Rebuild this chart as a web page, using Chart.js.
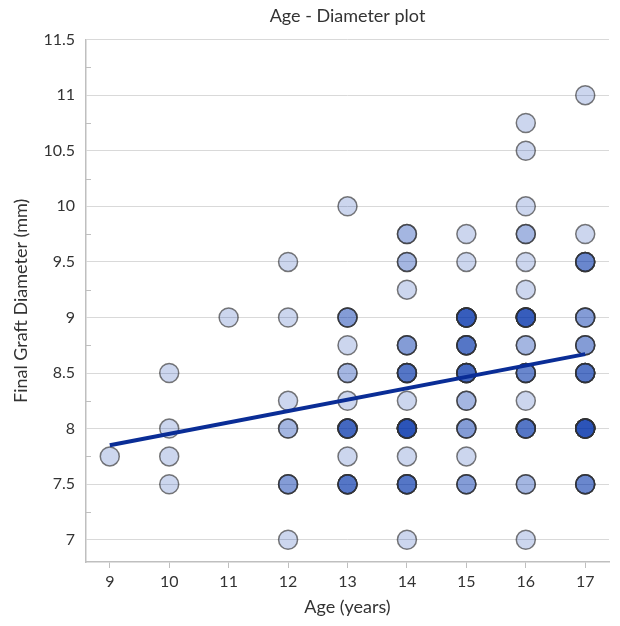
<!DOCTYPE html>
<html>
<head>
<meta charset="utf-8">
<script src="https://cdn.jsdelivr.net/npm/chart.js@4/dist/chart.umd.min.js"></script>
<style>
  html, body { margin: 0; padding: 0; background: #fff; }
  #wrap { width: 620px; height: 626px; }
</style>
</head>
<body>
<div id="wrap"><canvas id="ageChart" width="620" height="626"></canvas></div>
<script>
// each circle = one (age, diameter) combination; count = how many patients share it
const ages      = [9,
                   10, 10, 10, 10,
                   11,
                   12, 12, 12, 12, 12, 12,
                   13, 13, 13, 13, 13, 13, 13, 13,
                   14, 14, 14, 14, 14, 14, 14, 14, 14, 14,
                   15, 15, 15, 15, 15, 15, 15, 15, 15,
                   16, 16, 16, 16, 16, 16, 16, 16, 16, 16, 16, 16, 16,
                   17, 17, 17, 17, 17, 17, 17, 17];
const diameters = [7.75,
                   8.5, 8, 7.75, 7.5,
                   9,
                   9.5, 9, 8.25, 8, 7.5, 7,
                   10, 9, 8.75, 8.5, 8.25, 8, 7.75, 7.5,
                   9.75, 9.5, 9.25, 8.75, 8.5, 8.25, 8, 7.75, 7.5, 7,
                   9.75, 9.5, 9, 8.75, 8.5, 8.25, 8, 7.75, 7.5,
                   10.75, 10.5, 10, 9.75, 9.5, 9.25, 9, 8.75, 8.5, 8.25, 8, 7.5, 7,
                   11, 9.75, 9.5, 9, 8.75, 8.5, 8, 7.5];
const counts    = [1,
                   1, 1, 1, 1,
                   1,
                   1, 1, 1, 2, 3, 1,
                   1, 3, 1, 2, 1, 6, 1, 5,
                   2, 2, 1, 3, 5, 1, 8, 1, 5, 1,
                   1, 1, 7, 5, 6, 2, 3, 1, 3,
                   1, 1, 1, 2, 1, 1, 7, 2, 4, 1, 5, 2, 1,
                   1, 1, 4, 3, 3, 5, 8, 4];

// linear trend line end points
const trendAges = [9, 17];
const trendDiameters = [7.85, 8.67];

const xTickValues = [9, 10, 11, 12, 13, 14, 15, 16, 17];
const yTickValues = [7, 7.5, 8, 8.5, 9, 9.5, 10, 10.5, 11, 11.5];

// repeat each circle once per patient so the translucent fills stack up
const points = [];
for (let i = 0; i < ages.length; i++) {
    for (let k = 0; k < counts[i]; k++) {
        points.push({ x: ages[i], y: diameters[i] });
    }
}

const trend = trendAges.map((a, i) => ({ x: a, y: trendDiameters[i] }));

const textColor = '#333333';
const axisColor = '#bfbfbf';
const font = 'Lato, "Open Sans", "Liberation Sans", sans-serif';

// small inner minor ticks on the y axis
const minorTicks = {
    id: 'minorTicks',
    afterDraw(chart) {
        const y = chart.scales.y;
        const ctx = chart.ctx;
        ctx.save();
        ctx.strokeStyle = axisColor;
        ctx.lineWidth = 1;
        for (let v = 7.25; v < 11.5; v += 0.5) {
            const py = Math.round(y.getPixelForValue(v)) + 0.5;
            ctx.beginPath();
            ctx.moveTo(y.right, py);
            ctx.lineTo(y.right + 5, py);
            ctx.stroke();
        }
        ctx.restore();
    }
};

new Chart(document.getElementById('ageChart'), {
    type: 'scatter',
    data: {
        datasets: [
            {
                type: 'line',
                data: trend,
                borderColor: '#0a2d96',
                borderWidth: 4,
                pointRadius: 0,
                fill: false
            },
            {
                data: points,
                pointRadius: 9.5,
                pointHoverRadius: 9.5,
                backgroundColor: 'rgba(0, 50, 170, 0.2)',
                borderColor: 'rgba(50, 50, 50, 0.65)',
                borderWidth: 1.5
            }
        ]
    },
    options: {
        responsive: false,
        animation: false,
        layout: { padding: { top: 5, right: 0, bottom: 0, left: 0 } },
        plugins: {
            legend: { display: false },
            tooltip: { enabled: false },
            title: {
                display: true,
                text: 'Age - Diameter plot',
                fullSize: false,
                color: textColor,
                font: { family: font, size: 18, weight: 'normal' },
                padding: { top: 0, bottom: 13 }
            }
        },
        scales: {
            x: {
                type: 'linear',
                min: 8.6,
                max: 17.4,
                afterBuildTicks: s => { s.ticks = xTickValues.map(v => ({ value: v })); },
                afterFit: s => { s.height = 64; },
                grid: {
                    drawOnChartArea: false,
                    drawTicks: true,
                    tickLength: 6,
                    tickColor: axisColor
                },
                border: { color: axisColor, width: 1.5 },
                ticks: {
                    color: textColor,
                    font: { family: font, size: 16 },
                    padding: 4,
                    maxRotation: 0
                },
                title: {
                    display: true,
                    text: 'Age (years)',
                    color: textColor,
                    font: { family: font, size: 18 },
                    padding: { top: 0, bottom: 8 }
                }
            },
            y: {
                type: 'linear',
                min: 6.8,
                max: 11.5,
                afterBuildTicks: s => { s.ticks = yTickValues.map(v => ({ value: v })); },
                afterFit: s => { s.width = 86; },
                grid: {
                    color: '#d9d9d9',
                    lineWidth: 1,
                    drawTicks: false
                },
                border: { color: axisColor, width: 1.5 },
                ticks: {
                    color: textColor,
                    font: { family: font, size: 16 },
                    padding: 11,
                    callback: v => String(v)
                },
                title: {
                    display: true,
                    text: 'Final Graft Diameter (mm)',
                    color: textColor,
                    font: { family: font, size: 18 },
                    padding: { top: 10, bottom: 0 }
                }
            }
        }
    },
    plugins: [minorTicks]
});
</script>
</body>
</html>
